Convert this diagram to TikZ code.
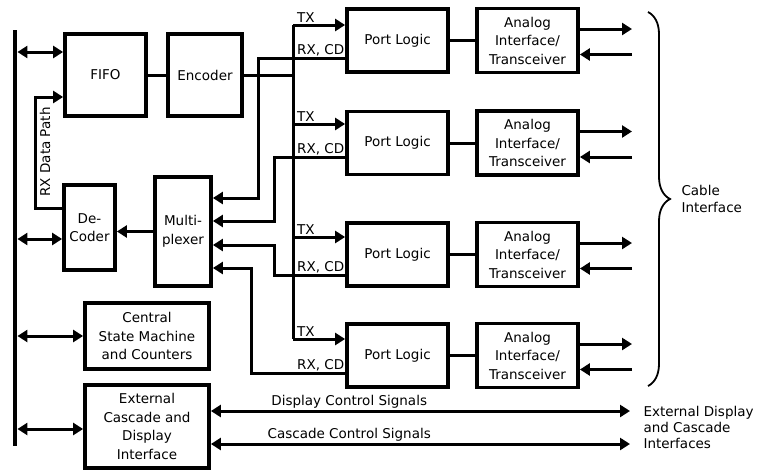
\documentclass[tikz,border=0pt]{standalone}
\usepackage{fontspec}
\setmainfont{DejaVu Sans}
\usetikzlibrary{arrows.meta,decorations.pathreplacing}

\begin{document}
\begin{tikzpicture}[
    x=1pt, y=-1pt,
    every node/.style={font=\fontsize{13.5}{18.5}\selectfont},
    block/.style={rectangle, draw=black, line width=3.8pt, align=center, inner sep=0pt},
    port/.style={block, minimum width=101pt, minimum height=63pt},
    analog/.style={block, minimum width=101pt, minimum height=64pt},
    wire/.style={draw=black, line width=3pt},
    arr/.style={wire, -{Triangle[length=10pt,width=12pt]}},
    dbl/.style={wire, {Triangle[length=10pt,width=12pt]}-{Triangle[length=10pt,width=12pt]}},
    lbl/.style={inner sep=1pt},
]
\useasboundingbox (0,0) rectangle (759,471);
\node[fill=black, inner sep=0pt, minimum width=4.5pt, minimum height=416pt] (bus) at (15,238) {};
\node[block, minimum width=81pt, minimum height=82pt] (fifo) at (105.5,75) {FIFO};
\node[block, minimum width=74pt, minimum height=82pt] (enc) at (205,75) {Encoder};
\node[block, minimum width=51pt, minimum height=85pt] (dec) at (89.5,227.5) {De-\\Coder};
\node[block, minimum width=56pt, minimum height=109pt] (mux) at (183,231.5) {Multi-\\plexer};
\node[block, minimum width=124pt, minimum height=66pt] (csm) at (147,336) {Central\\State Machine\\and Counters};
\node[block, minimum width=124pt, minimum height=83pt] (ext) at (147,426.5) {External\\Cascade and\\Display\\Interface};
\node[port] (p1) at (397.5,40.5) {Port Logic};
\node[port] (p2) at (397.5,143) {Port Logic};
\node[port] (p3) at (397.5,254.5) {Port Logic};
\node[port] (p4) at (397.5,355.5) {Port Logic};
\node[analog] (a1) at (527.5,40.5) {Analog\\Interface/\\Transceiver};
\node[analog] (a2) at (527.5,143) {Analog\\Interface/\\Transceiver};
\node[analog] (a3) at (527.5,254.5) {Analog\\Interface/\\Transceiver};
\node[analog] (a4) at (527.5,355.5) {Analog\\Interface/\\Transceiver};

\coordinate (trunk) at (293,0);
\coordinate (cab) at (632,0);
\coordinate (extr) at (630,0);
\coordinate (rxp) at (35,97);
\coordinate (tx1) at ([yshift=15.5pt]p1.west);
\coordinate (tx2) at ([yshift=19pt]p2.west);
\coordinate (tx3) at ([yshift=17.5pt]p3.west);
\coordinate (tx4) at ([yshift=16.5pt]p4.west);
\coordinate (rx1) at ([yshift=-17.5pt]p1.west);
\coordinate (rx2) at ([yshift=-14pt]p2.west);
\coordinate (rx3) at ([yshift=-20.5pt]p3.west);
\coordinate (rx4) at ([yshift=-17.5pt]p4.west);
\coordinate (m1) at (258,198);
\coordinate (m2) at (274,221);
\coordinate (m3) at (274,245);
\coordinate (m4) at (251,268);
\coordinate (bt) at (648,12);
\coordinate (bb) at (648,386);

\draw[dbl] ([yshift=23pt]fifo.west -| bus.east) -- ([yshift=23pt]fifo.west);
\draw[dbl] ([yshift=-11.5pt]dec.west -| bus.east) -- ([yshift=-11.5pt]dec.west);
\draw[dbl] (csm.west -| bus.east) -- (csm.west);
\draw[dbl] ([yshift=-2.5pt]ext.west -| bus.east) -- ([yshift=-2.5pt]ext.west);
\draw[arr] ([yshift=19.5pt]dec.west) -| (rxp) -- (rxp -| fifo.west);
\node[rotate=90] (rxlbl) at (45,152) {RX Data Path};
\draw[wire] (fifo) -- (enc);
\draw[arr] (mux.west) -- (mux.west -| dec.east);

\draw[wire] (enc.east) -- (enc.east -| trunk);
\draw[wire] (tx1 -| trunk) -- (tx4 -| trunk);
\draw[arr] (tx1 -| trunk) -- (tx1);
\draw[arr] (tx2 -| trunk) -- (tx2);
\draw[arr] (tx3 -| trunk) -- (tx3);
\draw[arr] (tx4 -| trunk) -- (tx4);
\draw[arr] (rx1) -| (m1) -- (m1 -| mux.east);
\draw[arr] (rx2) -| (m2) -- (m2 -| mux.east);
\draw[arr] (rx3) -| (m3) -- (m3 -| mux.east);
\draw[arr] (rx4) -| (m4) -- (m4 -| mux.east);
\node[lbl, anchor=south west] (txl1) at ([xshift=3pt,yshift=1pt]tx1 -| trunk) {TX};
\node[lbl, anchor=south west] (txl2) at ([xshift=3pt,yshift=1pt]tx2 -| trunk) {TX};
\node[lbl, anchor=south west] (txl3) at ([xshift=3pt,yshift=1pt]tx3 -| trunk) {TX};
\node[lbl, anchor=south west] (txl4) at ([xshift=3pt,yshift=1pt]tx4 -| trunk) {TX};
\node[lbl, anchor=south west] (rxl1) at ([xshift=3pt,yshift=1pt]rx1 -| trunk) {RX, CD};
\node[lbl, anchor=south west] (rxl2) at ([xshift=3pt,yshift=1pt]rx2 -| trunk) {RX, CD};
\node[lbl, anchor=south west] (rxl3) at ([xshift=3pt,yshift=1pt]rx3 -| trunk) {RX, CD};
\node[lbl, anchor=south west] (rxl4) at ([xshift=3pt,yshift=1pt]rx4 -| trunk) {RX, CD};

\draw[wire] (p1) -- (a1);
\draw[wire] (p2) -- (a2);
\draw[wire] (p3) -- (a3);
\draw[wire] (p4) -- (a4);
\draw[arr] ([yshift=11.5pt]a1.east) -- ([yshift=11.5pt]a1.east -| cab);
\draw[arr] ([yshift=11.5pt]a2.east) -- ([yshift=11.5pt]a2.east -| cab);
\draw[arr] ([yshift=11.5pt]a3.east) -- ([yshift=11.5pt]a3.east -| cab);
\draw[arr] ([yshift=11.5pt]a4.east) -- ([yshift=11.5pt]a4.east -| cab);
\draw[arr] ([yshift=-14pt]a1.east -| cab) -- ([yshift=-14pt]a1.east);
\draw[arr] ([yshift=-14pt]a2.east -| cab) -- ([yshift=-14pt]a2.east);
\draw[arr] ([yshift=-14pt]a3.east -| cab) -- ([yshift=-14pt]a3.east);
\draw[arr] ([yshift=-14pt]a4.east -| cab) -- ([yshift=-14pt]a4.east);
\draw[line width=1.8pt, decorate, decoration={brace, amplitude=22pt}] (bt) -- (bb);
\node[anchor=west, align=left, font=\fontsize{13.5}{17}\selectfont] (cable) at (678,199) {Cable\\Interface};

\draw[dbl] ([yshift=15.5pt]ext.east) -- ([yshift=15.5pt]ext.east -| extr)
    node[lbl, pos=0.33, above] (dsig) {Display Control Signals};
\draw[dbl] ([yshift=-17.5pt]ext.east) -- ([yshift=-17.5pt]ext.east -| extr)
    node[lbl, pos=0.33, above] (csig) {Cascade Control Signals};
\node[anchor=west, align=left, font=\fontsize{13.5}{16}\selectfont] (extif) at (640,427) {External Display\\and Cascade\\Interfaces};
\end{tikzpicture}
\end{document}
